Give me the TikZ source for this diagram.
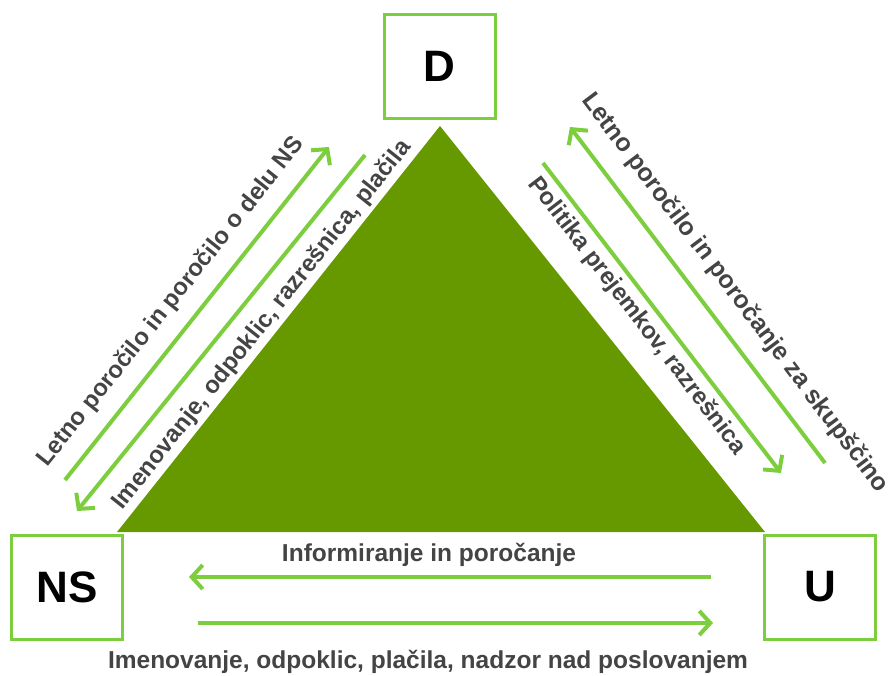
\documentclass[tikz,border=0pt]{standalone}
\usepackage{fontspec}
\setmainfont{Liberation Sans}
\usetikzlibrary{arrows.meta}
\definecolor{tri}{RGB}{102,153,0}
\definecolor{lg}{RGB}{125,206,62}
\definecolor{txt}{RGB}{68,68,68}
\begin{document}
\begin{tikzpicture}[x=1pt,y=-1pt,
 box/.style={draw=lg, line width=3pt, fill=white, minimum width=111pt, minimum height=104pt, inner sep=0pt, font=\fontsize{44}{44}\selectfont\bfseries},
 flow/.style={draw=lg, line width=4pt, -{Straight Barb[length=11pt,width=24pt]}},
 lbl/.style={text=txt, font=\fontsize{24.5}{24.5}\selectfont\bfseries, inner sep=0pt},
 dlbl/.style={lbl, font=\fontsize{24}{24}\selectfont\bfseries},
]
\useasboundingbox (0,0) rectangle (893,675);
% triangle
\coordinate (ta) at (440,126);
\coordinate (tr) at (765,532);
\coordinate (tl) at (117,532);
\fill[tri] (ta) -- (tr) -- (tl) -- cycle;
% boxes
\node[box] (D) at (439.5,66) {D};
\node[box] (NS) at (67,587) {NS};
\node[box] (U) at (820,587) {U};
% arrow ends
\coordinate (a1s) at (65,480);  \coordinate (a1e) at (329,147);
\coordinate (a2s) at (365,155); \coordinate (a2e) at (77,511);
\coordinate (a3s) at (825,463); \coordinate (a3e) at (570,127);
\coordinate (a4s) at (543,163); \coordinate (a4e) at (781,473);
\coordinate (b1s) at (711,577); \coordinate (b1e) at (189,577);
\coordinate (b2s) at (198,623); \coordinate (b2e) at (713,623);
\draw[flow] (a1s) -- (a1e);
\draw[flow] (a2s) -- (a2e);
\draw[flow] (a3s) -- (a3e);
\draw[flow] (a4s) -- (a4e);
\draw[flow] (b1s) -- (b1e);
\draw[flow] (b2s) -- (b2e);
% labels
\node[dlbl, rotate=51.5] (t1) at (171,302) {Letno poročilo in poročilo o delu NS};
\node[dlbl, rotate=51.5] (t2) at (262,325) {Imenovanje, odpoklic, razrešnica, plačila};
\node[dlbl, rotate=-53, font=\fontsize{25}{25}\selectfont\bfseries] (t3) at (735,293) {Letno poročilo in poročanje za skupščino};
\node[dlbl, rotate=-52.5] (t4) at (637,316) {Politika prejemkov, razrešnica};
\node[lbl] (t5) at (429,555) {Informiranje in poročanje};
\node[lbl] (t6) at (428,662) {Imenovanje, odpoklic, plačila, nadzor nad poslovanjem};
\end{tikzpicture}
\end{document}
